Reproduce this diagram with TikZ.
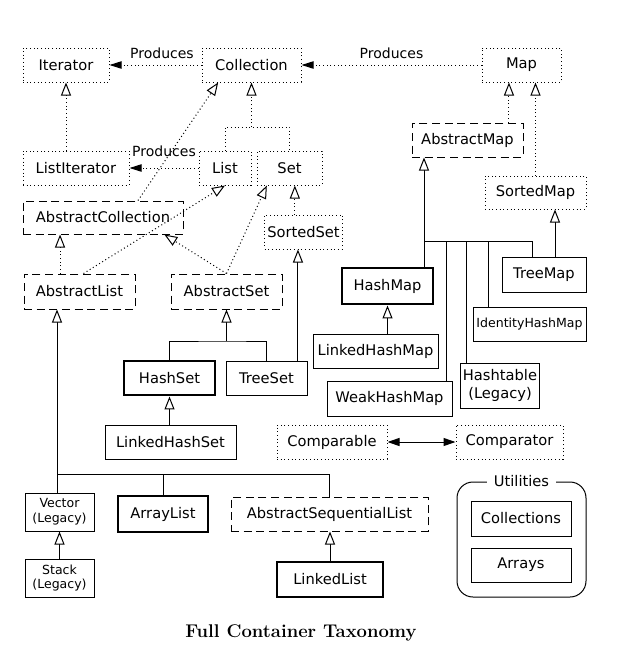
\documentclass[tikz,border=0pt]{standalone}
\usepackage{fontspec}
\usepackage{tikz}
\usetikzlibrary{arrows.meta, positioning}
\newfontfamily\boxfont{DejaVu Sans}

\begin{document}
\begin{tikzpicture}[
  x=0.75pt, y=-0.75pt, line width=0.75pt,
  cls/.style={rectangle, draw, minimum height=25.5pt, inner sep=2pt, align=center, font=\boxfont\fontsize{11}{13}\selectfont},
  iface/.style={cls, dotted},
  abstr/.style={cls, dash pattern=on 6pt off 3.5pt},
  key/.style={cls, line width=2.2pt},
  small/.style={font=\boxfont\fontsize{9.4}{11}\selectfont},
  lbl/.style={font=\boxfont\fontsize{10.5}{12}\selectfont},
  impl/.style={dotted, -{Triangle[open, length=9.75pt, width=7.5pt, fill=white]}},
  ext/.style={-{Triangle[open, length=9.75pt, width=7.5pt, fill=white]}},
  produces/.style={dotted, -{Triangle[length=9pt, width=5.5pt]}},
  both/.style={{Triangle[length=9pt, width=6pt]}-{Triangle[length=9pt, width=6pt]}}
]
\useasboundingbox (0,0) rectangle (624,658);

\node[iface, minimum width=64.5pt] (iterator) at (66,65) {Iterator};
\node[iface, minimum width=74.25pt] (collection) at (251.5,65) {Collection};
\node[iface, minimum width=59.25pt] (map) at (521.5,65) {Map};
\node[iface, minimum width=79.5pt] (listiterator) at (76,168) {ListIterator};
\node[iface, minimum width=39pt] (list) at (225,168) {List};
\node[iface, minimum width=48.75pt] (set) at (289.5,168) {Set};
\node[abstr, minimum width=120pt, minimum height=24.75pt] (abstractcollection) at (103,217.5) {AbstractCollection};
\node[iface, minimum width=56.25pt] (sortedset) at (303.5,232) {SortedSet};
\node[abstr, minimum width=83.25pt] (abstractmap) at (467.5,140) {AbstractMap};
\node[iface, minimum width=75.75pt, minimum height=24.75pt] (sortedmap) at (535.5,192.5) {SortedMap};
\node[abstr, minimum width=83.25pt, minimum height=26.25pt] (abstractlist) at (79.5,291.5) {AbstractList};
\node[abstr, minimum width=83.25pt, minimum height=26.25pt] (abstractset) at (226.5,291.5) {AbstractSet};
\node[key, minimum width=68.25pt, minimum height=27pt] (hashmap) at (387.5,286) {HashMap};
\node[cls, minimum width=63pt, minimum height=26.25pt] (treemap) at (544,274.5) {TreeMap};
\node[cls, small, minimum width=84.75pt] (identityhashmap) at (529.5,324) {IdentityHashMap};
\node[cls, minimum width=93.75pt] (linkedhashmap) at (375.5,351) {LinkedHashMap};
\node[key, minimum width=68.25pt] (hashset) at (169.5,378) {HashSet};
\node[cls, minimum width=60.75pt] (treeset) at (266.5,378) {TreeSet};
\node[cls, minimum width=58.5pt, minimum height=33.75pt] (hashtable) at (500,385.5) {Hashtable\\(Legacy)};
\node[cls, minimum width=93.75pt, minimum height=26.25pt] (weakhashmap) at (389.5,398.5) {WeakHashMap};
\node[cls, minimum width=98.25pt] (linkedhashset) at (170.5,442) {LinkedHashSet};
\node[iface, minimum width=82.5pt] (comparable) at (332,442) {Comparable};
\node[iface, minimum width=80.25pt] (comparator) at (509.5,442) {Comparator};
\node[cls, small, minimum width=51.75pt, minimum height=28.5pt] (vector) at (59.5,512) {Vector\\(Legacy)};
\node[key, minimum width=67.5pt, minimum height=27pt] (arraylist) at (163,514) {ArrayList};
\node[abstr, minimum width=147.75pt] (abstractsequentiallist) at (329.5,514) {AbstractSequentialList};
\node[cls, small, minimum width=51.75pt, minimum height=28.5pt] (stack) at (59.5,578) {Stack\\(Legacy)};
\node[key, minimum width=79.5pt, minimum height=26.25pt] (linkedlist) at (330,579.5) {LinkedList};

\node[draw, rounded corners=12pt, minimum width=96.75pt, minimum height=86.25pt] (utilities) at (521.5,539.5) {};
\node[fill=white, inner xsep=5pt, inner ysep=1pt, font=\boxfont\fontsize{11}{13}\selectfont] (utiltitle) at (utilities.north) {Utilities};
\node[cls, minimum width=75pt, minimum height=26.25pt] (collections) at (521,518.5) {Collections};
\node[cls, minimum width=75pt] (arrays) at (521,565) {Arrays};

\node[font=\fontsize{13.8}{16}\selectfont\bfseries] (title) at (301,633) {Full Container Taxonomy};

\draw[produces] (collection) -- node[lbl, above=1pt, pos=0.43] {Produces} (iterator);
\draw[produces] (map) -- node[lbl, above=1pt] {Produces} (collection);
\draw[produces] (list) -- node[lbl, above=4.5pt] {Produces} (listiterator);
\draw[impl] (listiterator.north -| iterator.south) -- (iterator.south);

\coordinate (colljoin) at (251.5,127);
\draw[impl] (colljoin) -- (collection.south);
\draw[dotted] (list.north) |- (colljoin) -| (set.north);
\draw[impl] ([xshift=26.25pt]abstractcollection.north) -- ([xshift=-25pt]collection.south);
\coordinate (alup) at ([xshift=-14.6pt]abstractlist.north);
\draw[impl] (alup) -- (alup |- abstractcollection.south);
\draw[impl] ([xshift=3pt]abstractlist.north) -- (list.south);
\draw[impl] (abstractset.north) -- ([xshift=46pt]abstractcollection.south);
\draw[impl] (abstractset.north) -- ([xshift=-17pt]set.south);
\coordinate (ssup) at ([xshift=4pt]set.south);
\draw[impl] (ssup |- sortedset.north) -- (ssup);

\coordinate (setbus) at (226.5,341);
\draw[ext] (setbus) -- (abstractset.south);
\draw (hashset.north) |- (setbus) -| (treeset.north);
\coordinate (tsup) at ([xshift=23.6pt]treeset.north);
\draw[ext] (tsup) -- (tsup |- sortedset.south);
\draw[ext] (linkedhashset.north -| hashset.south) -- (hashset.south);

\coordinate (amup) at ([xshift=-9.4pt]map.south);
\draw[impl] (amup |- abstractmap.north) -- (amup);
\draw[impl] (sortedmap.north) -- (sortedmap.north |- map.south);
\coordinate (mapbus) at (424,241);
\draw[ext] (mapbus) -- (mapbus |- abstractmap.south);
\draw (hashmap.north -| mapbus) -- (mapbus) -| ([xshift=-9pt]treemap.north);
\foreach \n/\dx in {weakhashmap/42.4pt, hashtable/-25.5pt, identityhashmap/-30.4pt}{
  \path ([xshift=\dx]\n.north) coordinate (drop);
  \draw (drop) -- (drop |- mapbus);
}
\coordinate (tmup) at ([xshift=8.25pt]treemap.north);
\draw[ext] (tmup) -- (tmup |- sortedmap.south);
\draw[ext] (linkedhashmap.north -| hashmap.south) -- (hashmap.south);
\draw[both] (comparable) -- (comparator);

\coordinate (listbus) at (57,474);
\draw[ext] (listbus) -- (listbus |- abstractlist.south);
\draw (vector.north -| listbus) -- (listbus) -| (abstractsequentiallist.north);
\draw (arraylist.north) -- (arraylist.north |- listbus);
\draw[ext] (stack.north) -- (vector.south);
\draw[ext] (linkedlist.north) -- (linkedlist.north |- abstractsequentiallist.south);
\end{tikzpicture}
\end{document}
